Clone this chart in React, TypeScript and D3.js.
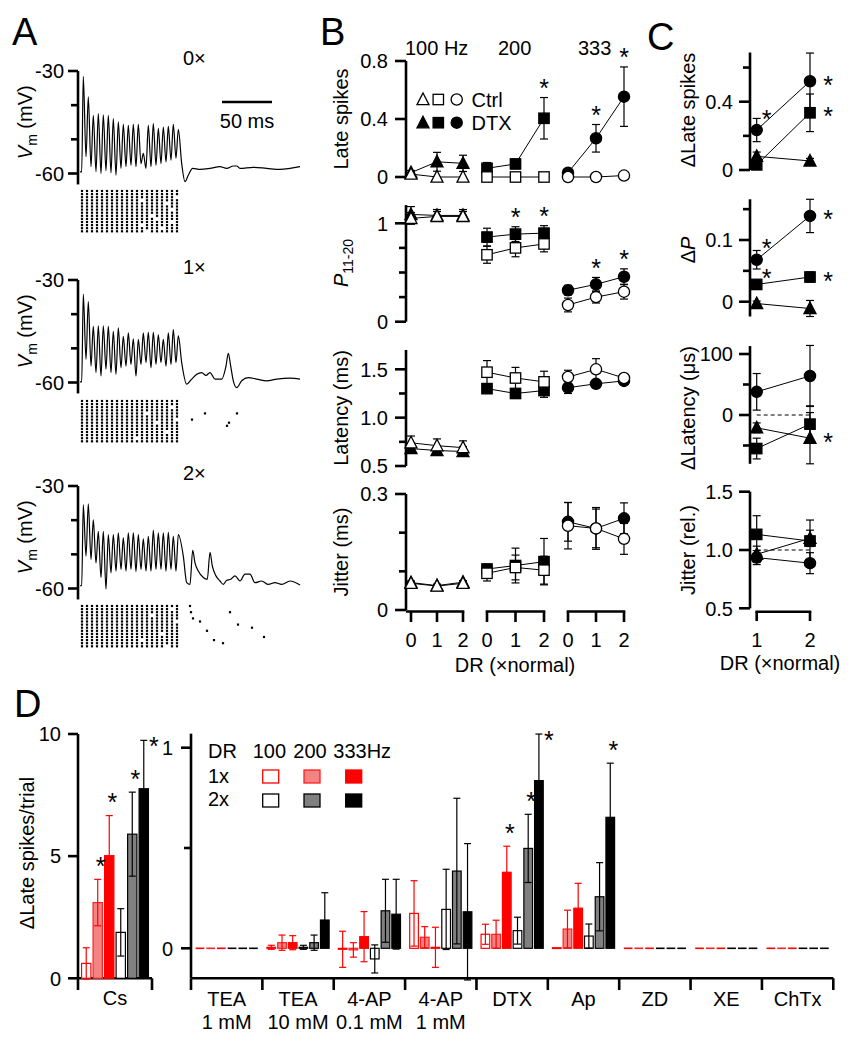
import React from 'react';
import * as d3 from 'd3';

const FONT = '"Liberation Sans", Arial, Helvetica, sans-serif';
const FS = 20;

/* ================= Panel A data ================= */
const stimTimes = [2, 7, 12, 17, 22, 27, 32, 37, 42, 47, 52, 57, 62, 67, 72, 77, 82, 87, 92, 97];
const traceLabels = ['0×', '1×', '2×'];
const vmTicks = [-30, -40, -50, -60];
const vmMajor = [-30, -60];

const trace0Base = -59.5;
const trace0Peaks = [-31.6, -37.6, -43.0, -42.5, -42.8, -43.0, -43.9, -44.9, -45.6, -45.9, -45.6, -45.6, -54.1, -45.9, -45.4, -46.8, -46.4, -46.2, -45.6, -47.1];
const trace0Troughs = [-55.1, -58.0, -59.5, -60.0, -59.2, -59.8, -60.5, -58.5, -58.0, -57.6, -58.0, -57.1, -58.5, -58.0, -57.6, -57.1, -56.6, -56.1, -55.5];
const trace0Tail = [[101.7, -57.1], [105, -62.4], [108.3, -60.5], [112.7, -58.5], [120, -58.8], [130, -58.5], [140, -58.0], [146.7, -58.5], [153.3, -57.8], [156.7, -57.8], [160, -58.5], [173.3, -58.2], [186.7, -58.5], [200, -58.8], [210, -58.5], [220, -58.0]];

const trace1Base = -59.8;
const trace1Peaks = [-34.1, -36.3, -43.6, -43.4, -43.4, -43.6, -45.0, -44.0, -46.5, -45.5, -47.2, -47.4, -45.5, -45.3, -45.3, -46.0, -47.4, -45.5, -44.5, -46.3];
const trace1Troughs = [-53.2, -55.2, -57.1, -58.1, -56.1, -57.1, -57.6, -55.7, -55.2, -54.7, -58.1, -54.7, -54.2, -55.7, -54.7, -54.2, -55.2, -54.7, -54.2];
const trace1Tail = [[101.7, -54.2], [106.7, -60.5], [111.7, -59.0], [116.7, -57.6], [121.7, -57.1], [126, -57.9], [130, -57.1], [135, -59.0], [141.7, -59.0], [146, -55.2], [148.3, -51.5], [150.7, -55.2], [153.3, -59.5], [156.7, -61.5], [161.7, -59.5], [168.3, -58.6], [176.7, -59.0], [186.7, -59.5], [196.7, -59.0], [210, -58.7], [220, -59.0]];

const trace2Base = -59.2;
const trace2Peaks = [-35.5, -35.2, -39.9, -43.3, -43.3, -44.2, -44.2, -43.7, -45.2, -43.7, -43.7, -44.2, -45.5, -44.7, -43.0, -43.7, -43.7, -43.6, -44.7, -44.2];
const trace2Troughs = [-50.5, -51.5, -52.5, -56.8, -60.2, -55.4, -54.9, -54.4, -54.9, -54.4, -55.0, -54.4, -54.9, -54.9, -54.4, -54.4, -54.9, -54.4, -54.9];
const trace2Tail = [[103.3, -50.5], [106.7, -58.3], [110, -58.8], [112.7, -48.8], [115, -52.5], [118.3, -54.9], [123.3, -56.8], [127.3, -57.3], [130, -49.4], [132.3, -53.4], [136, -56.3], [140, -57.8], [143.3, -58.8], [146.7, -57.6], [150.7, -57.3], [155, -56.3], [160, -57.8], [165, -55.8], [170, -55.8], [175, -58.3], [181.7, -57.8], [188.3, -58.8], [195, -58.3], [201.7, -58.8], [210, -57.8], [220, -59.0]];

const rasterRows = 14;
const raster0Missing = [[2, 19], [3, 12], [4, 17], [6, 18], [8, 14], [9, 15], [10, 18], [11, 12], [12, 16], [13, 13]];
const raster1Missing = [[2, 18], [4, 13], [6, 19], [7, 15], [10, 17], [12, 11]];
const raster2Missing = [[1, 18], [3, 14], [5, 19], [9, 16], [11, 12], [13, 17]];
const raster0Late: number[][] = [];
const raster1Late = [[112, 6], [125, 4], [147, 8], [149, 7], [157, 4]];
const raster2Late = [[110, 0], [111, 2], [113, 4], [120, 5], [127, 8], [134, 11], [143, 12], [150, 2], [158, 6], [172, 7], [184, 10]];

/* ================= Panel B data ================= */
const bGroupLabels = ['100 Hz', '200', '333'];
const drLevels = [0, 1, 2];
const bShapes = ['tri', 'sq', 'circ'];

const lateCtrl = [[0.02, 0, 0], [0, 0, 0], [0, 0, 0.01]];
const lateCtrlErr = [[0.01, 0, 0], [0, 0, 0], [0, 0, 0]];
const lateDtx = [[0.03, 0.105, 0.094], [0.06, 0.09, 0.405], [0.03, 0.267, 0.554]];
const lateDtxErr = [[0.015, 0.065, 0.056], [0.04, 0.027, 0.143], [0.01, 0.095, 0.205]];
const lateSig = [[0, 0, 0], [0, 0, 1], [0, 1, 1]];

const pCtrl = [[1.05, 1.07, 1.07], [0.68, 0.75, 0.79], [0.17, 0.25, 0.305]];
const pCtrlErr = [[0.06, 0.05, 0.05], [0.086, 0.09, 0.08], [0.07, 0.06, 0.075]];
const pDtx = [[1.09, 1.08, 1.08], [0.86, 0.89, 0.9], [0.32, 0.38, 0.457]];
const pDtxErr = [[0.08, 0.06, 0.06], [0.09, 0.075, 0.076], [0.05, 0.07, 0.08]];
const pSig = [[0, 0, 0], [0, 1, 1], [0, 1, 1]];

const latCtrl = [[0.74, 0.71, 0.69], [1.47, 1.41, 1.37], [1.42, 1.5, 1.41]];
const latCtrlErr = [[0.07, 0.07, 0.07], [0.12, 0.11, 0.11], [0.07, 0.11, 0.04]];
const latDtx = [[0.68, 0.66, 0.65], [1.3, 1.25, 1.28], [1.31, 1.35, 1.38]];
const latDtxErr = [[0.05, 0.04, 0.05], [0.04, 0.03, 0.07], [0.06, 0.03, 0.03]];
const latSig = [[0, 0, 0], [0, 0, 0], [0, 0, 0]];

const jitCtrl = [[0.069, 0.062, 0.069], [0.095, 0.11, 0.103], [0.218, 0.211, 0.184]];
const jitCtrlErr = [[0.004, 0.004, 0.004], [0.02, 0.032, 0.036], [0.06, 0.05, 0.04]];
const jitDtx = [[0.071, 0.063, 0.072], [0.106, 0.115, 0.125], [0.228, 0.211, 0.237]];
const jitDtxErr = [[0.004, 0.004, 0.004], [0.012, 0.045, 0.06], [0.05, 0.054, 0.04]];
const jitSig = [[0, 0, 0], [0, 0, 0], [0, 0, 0]];

/* ================= Panel C data ================= */
const cDR = [1, 2];
const cShapes = ['circ', 'sq', 'tri'];
const dLateMean = [[0.234, 0.52], [0.03, 0.335], [0.08, 0.053]];
const dLateErr = [[0.068, 0.165], [0.02, 0.11], [0.025, 0.015]];
const dLateSig = [[1, 1], [0, 1], [0, 0]];
const dPMean = [[0.068, 0.139], [0.028, 0.04], [-0.003, -0.011]];
const dPErr = [[0.015, 0.027], [0.005, 0.008], [0.004, 0.013]];
const dPSig = [[1, 1], [1, 1], [0, 0]];
const dLatMean = [[38, 64], [-55, -15], [-21, -38]];
const dLatErr = [[30, 50], [17, 30], [8, 42]];
const dLatSig = [[0, 0], [0, 0], [0, 1]];
const jRelMean = [[0.935, 0.887], [1.134, 1.077], [0.963, 1.1]];
const jRelErr = [[0.06, 0.09], [0.16, 0.18], [0.07, 0.07]];
const jRelSig = [[0, 0], [0, 0], [0, 0]];

/* ================= Panel D data ================= */
const dSeries = ['1x-100', '1x-200', '1x-333', '2x-100', '2x-200', '2x-333'];
const csValues = [0.61, 3.1, 5.02, 1.88, 5.9, 7.76];
const csErrors = [0.64, 0.95, 1.64, 0.97, 1.72, 1.98];
const csSig = [0, 1, 1, 0, 1, 1];
const dCatLine1 = ['TEA', 'TEA', '4-AP', '4-AP', 'DTX', 'Ap', 'ZD', 'XE', 'ChTx'];
const dCatLine2 = ['1 mM', '10 mM', '0.1 mM', '1 mM', '', '', '', '', ''];
const v1x100 = [0, 0.005, -0.005, 0.174, 0.07, 0.003, 0, 0, 0];
const v1x200 = [0, 0.028, -0.008, 0.055, 0.07, 0.096, 0, 0, 0];
const v1x333 = [0, 0.028, 0.058, 0.005, 0.379, 0.2, 0, 0, 0];
const v2x100 = [0, 0.005, -0.053, 0.194, 0.088, 0.061, 0, 0, 0];
const v2x200 = [0, 0.028, 0.187, 0.385, 0.498, 0.257, 0, 0, 0];
const v2x333 = [0, 0.141, 0.17, 0.182, 0.836, 0.653, 0, 0, 0];
const e1x100 = [0, 0.01, 0.09, 0.163, 0.05, 0, 0, 0, 0];
const e1x200 = [0, 0.038, 0.036, 0.053, 0.07, 0.094, 0, 0, 0];
const e1x333 = [0, 0.035, 0.125, 0.1, 0.13, 0.124, 0, 0, 0];
const e2x100 = [0, 0.01, 0.07, 0.2, 0.067, 0.06, 0, 0, 0];
const e2x200 = [0, 0.038, 0.157, 0.363, 0.17, 0.17, 0, 0, 0];
const e2x333 = [0, 0.136, 0.174, 0.34, 0.232, 0.27, 0, 0, 0];
const s1x333 = [0, 0, 0, 0, 1, 0, 0, 0, 0];
const s2x200 = [0, 0, 0, 0, 1, 0, 0, 0, 0];
const s2x333 = [0, 0, 0, 0, 1, 1, 0, 0, 0];
const sNone = [0, 0, 0, 0, 0, 0, 0, 0, 0];
const legendFreqs = ['100', '200', '333Hz'];
const legendRows = ['1x', '2x'];

const seriesStyle = [
  { fill: '#ffffff', stroke: '#ff0000' },
  { fill: '#f48484', stroke: '#ff2020' },
  { fill: '#ff0000', stroke: '#ff0000' },
  { fill: '#ffffff', stroke: '#000000' },
  { fill: '#808080', stroke: '#000000' },
  { fill: '#000000', stroke: '#000000' },
];

/* ================= helpers ================= */
function Marker({ shape, filled, x, y }: any) {
  const fill = filled ? '#000' : '#fff';
  if (shape === 'tri') {
    const h = 6;
    return <path d={`M${x},${y - h - 0.5}L${x + h},${y + h * 0.85}L${x - h},${y + h * 0.85}Z`} fill={fill} stroke="#000" strokeWidth={1.3} />;
  }
  if (shape === 'sq') {
    const h = 5.2;
    return <rect x={x - h} y={y - h} width={2 * h} height={2 * h} fill={fill} stroke="#000" strokeWidth={1.3} />;
  }
  return <circle cx={x} cy={y} r={5.6} fill={fill} stroke="#000" strokeWidth={1.3} />;
}

function ErrBar({ x, y1, y2, cap = 4, color = '#000', sw = 1.2 }: any) {
  return (
    <g stroke={color} strokeWidth={sw}>
      <line x1={x} x2={x} y1={y1} y2={y2} />
      <line x1={x - cap} x2={x + cap} y1={y1} y2={y1} />
      <line x1={x - cap} x2={x + cap} y1={y2} y2={y2} />
    </g>
  );
}

function Star({ x, y }: { x: number; y: number }) {
  return <text x={x} y={y + 14.5} textAnchor="middle" fontSize={25}>*</text>;
}

function VAxis({ x, y, top, bottom, ticks, minor = [], fmt, gap = 18, major = 11, minorLen = 7 }: any) {
  return (
    <g>
      <line x1={x} x2={x} y1={y(top)} y2={y(bottom)} stroke="#000" strokeWidth={2.6} />
      {ticks.map((t: number) => (
        <g key={'t' + t}>
          <line x1={x - major} x2={x} y1={y(t)} y2={y(t)} stroke="#000" strokeWidth={2.6} />
          <text x={x - gap} y={y(t)} dy="0.36em" textAnchor="end" fontSize={FS}>{fmt(t)}</text>
        </g>
      ))}
      {minor.map((t: number) => (
        <line key={'m' + t} x1={x - minorLen} x2={x} y1={y(t)} y2={y(t)} stroke="#000" strokeWidth={2.6} />
      ))}
    </g>
  );
}

function RotLabel({ x, y, children, size = FS }: any) {
  return (
    <text transform={`translate(${x},${y}) rotate(-90)`} textAnchor="middle" fontSize={size}>{children}</text>
  );
}

/* ================= Panel A ================= */
const A_TOPS = [71, 280, 486];
const A_RASTER_TOPS = [191, 401, 606];
const traceBases = [trace0Base, trace1Base, trace2Base];
const tracePeaks = [trace0Peaks, trace1Peaks, trace2Peaks];
const traceTroughs = [trace0Troughs, trace1Troughs, trace2Troughs];
const traceTails = [trace0Tail, trace1Tail, trace2Tail];
const rasterMissing = [raster0Missing, raster1Missing, raster2Missing];
const rasterLate = [raster0Late, raster1Late, raster2Late];

function PanelA() {
  const x = d3.scaleLinear().domain([0, 220]).range([80, 300]);
  return (
    <g>
      <text x={12} y={45} fontSize={38}>A</text>
      <line x1={x(142)} x2={x(192)} y1={102} y2={102} stroke="#000" strokeWidth={2.5} />
      <text x={x(167)} y={128} textAnchor="middle" fontSize={FS}>50 ms</text>
      {traceLabels.map((lab, k) => {
        const top = A_TOPS[k];
        const y = d3.scaleLinear().domain([-60, -30]).range([top + 102.5, top]);
        const pts: [number, number][] = [[0, traceBases[k]], [stimTimes[0] - 0.3, traceBases[k]]];
        stimTimes.forEach((s, i) => {
          pts.push([s + 1.3, tracePeaks[k][i]]);
          if (i < traceTroughs[k].length) pts.push([s + 4, traceTroughs[k][i]]);
        });
        traceTails[k].forEach((p) => pts.push([p[0], p[1]]));
        const ln = d3.line<[number, number]>().x((d) => x(d[0])).y((d) => y(d[1])).curve(d3.curveMonotoneX);
        const rTop = A_RASTER_TOPS[k];
        const missSet = new Set(rasterMissing[k].map((m) => m[0] + '-' + m[1]));
        const dots: any[] = [];
        for (let r = 0; r < rasterRows; r++) {
          stimTimes.forEach((s, c) => {
            if (!missSet.has(r + '-' + c)) {
              dots.push(<rect key={`d${r}-${c}`} x={x(s) - 1.1} y={rTop + r * 3.1 - 1.1} width={2.2} height={2.2} fill="#000" />);
            }
          });
        }
        rasterLate[k].forEach((p, i) => {
          dots.push(<rect key={`l${i}`} x={x(p[0]) - 1.1} y={rTop + p[1] * 3.1 - 1.1} width={2.2} height={2.2} fill="#000" />);
        });
        const mid = (y(-30) + y(-60)) / 2;
        return (
          <g key={lab}>
            <text x={183} y={top - 6} fontSize={FS}>{lab}</text>
            <line x1={78} x2={78} y1={y(-30)} y2={y(-63.2)} stroke="#000" strokeWidth={2.6} />
            {vmTicks.map((t) => (
              <line key={t} x1={vmMajor.includes(t) ? 68 : 71} x2={78} y1={y(t)} y2={y(t)} stroke="#000" strokeWidth={2.6} />
            ))}
            {vmMajor.map((t) => (
              <text key={'l' + t} x={64} y={y(t)} dy="0.36em" textAnchor="end" fontSize={FS}>{String(t)}</text>
            ))}
            <RotLabel x={32} y={mid}>
              <tspan fontStyle="italic">V</tspan>
              <tspan fontSize={14} dy={5}>m</tspan>
              <tspan dy={-5}> (mV)</tspan>
            </RotLabel>
            <path d={ln(pts) || ''} fill="none" stroke="#000" strokeWidth={1.2} />
            {dots}
          </g>
        );
      })}
    </g>
  );
}

/* ================= Panel B ================= */
const B_AXIS_X = 406;
const B_GROUP_RANGES = [[411, 463], [487, 544], [568, 624]];

function BSeries({ y, ctrl, ctrlErr, dtx, dtxErr, sig }: any) {
  return (
    <g>
      {bGroupLabels.map((g, gi) => {
        const xs = d3.scaleLinear().domain([0, 2]).range(B_GROUP_RANGES[gi]);
        const ln = d3.line<number>().x((_, i) => xs(drLevels[i])).y((v) => y(v));
        return (
          <g key={g}>
            <path d={ln(dtx[gi]) || ''} fill="none" stroke="#000" strokeWidth={1} />
            <path d={ln(ctrl[gi]) || ''} fill="none" stroke="#000" strokeWidth={1} />
            {drLevels.map((d, i) => (
              <g key={'e' + d}>
                {dtxErr[gi][i] > 0 && <ErrBar x={xs(d)} y1={y(dtx[gi][i] + dtxErr[gi][i])} y2={y(dtx[gi][i] - dtxErr[gi][i])} />}
                {ctrlErr[gi][i] > 0 && <ErrBar x={xs(d)} y1={y(ctrl[gi][i] + ctrlErr[gi][i])} y2={y(ctrl[gi][i] - ctrlErr[gi][i])} />}
              </g>
            ))}
            {drLevels.map((d, i) => <Marker key={'f' + d} shape={bShapes[gi]} filled x={xs(d)} y={y(dtx[gi][i])} />)}
            {drLevels.map((d, i) => <Marker key={'o' + d} shape={bShapes[gi]} filled={false} x={xs(d)} y={y(ctrl[gi][i])} />)}
            {drLevels.map((d, i) => sig[gi][i] ? <Star key={'s' + d} x={xs(d)} y={y(dtx[gi][i] + dtxErr[gi][i]) - 15} /> : null)}
          </g>
        );
      })}
    </g>
  );
}

function PanelB() {
  const yLate = d3.scaleLinear().domain([0, 0.8]).range([177, 61]);
  const yP = d3.scaleLinear().domain([0, 1]).range([321.7, 223.3]);
  const yLat = d3.scaleLinear().domain([0.5, 1.5]).range([466, 369.3]);
  const yJit = d3.scaleLinear().domain([0, 0.3]).range([610, 494]);
  const f1 = (v: number) => (v === 0 ? '0' : v.toFixed(1));
  const bLegendX = [423, 438.3, 456.7];
  return (
    <g>
      <text x={320} y={45} fontSize={38}>B</text>
      <text x={405} y={55} fontSize={FS}>{bGroupLabels[0]}</text>
      <text x={498} y={55} fontSize={FS}>{bGroupLabels[1]}</text>
      <text x={578} y={55} fontSize={FS}>{bGroupLabels[2]}</text>

      {bShapes.map((s, i) => <Marker key={'lo' + s} shape={s} filled={false} x={bLegendX[i]} y={99.5} />)}
      {bShapes.map((s, i) => <Marker key={'lf' + s} shape={s} filled x={bLegendX[i]} y={122.7} />)}
      <text x={471.5} y={106.5} fontSize={FS}>Ctrl</text>
      <text x={471.5} y={130} fontSize={FS}>DTX</text>

      <VAxis x={B_AXIS_X} y={yLate} top={0.8} bottom={-0.01} ticks={[0, 0.4, 0.8]} fmt={f1} />
      <RotLabel x={348} y={119}>Late spikes</RotLabel>
      <BSeries y={yLate} ctrl={lateCtrl} ctrlErr={lateCtrlErr} dtx={lateDtx} dtxErr={lateDtxErr} sig={lateSig} />

      <VAxis x={B_AXIS_X} y={yP} top={1.185} bottom={0} ticks={[0, 1]} minor={[0.25, 0.5, 0.75]} fmt={(v: number) => String(v)} />
      <RotLabel x={348} y={263}>
        <tspan fontStyle="italic">P</tspan>
        <tspan fontSize={14} dy={5}>11-20</tspan>
      </RotLabel>
      <BSeries y={yP} ctrl={pCtrl} ctrlErr={pCtrlErr} dtx={pDtx} dtxErr={pDtxErr} sig={pSig} />

      <VAxis x={B_AXIS_X} y={yLat} top={1.7} bottom={0.5} ticks={[0.5, 1.0, 1.5]} minor={[0.75, 1.25]} fmt={(v: number) => v.toFixed(1)} />
      <RotLabel x={348} y={408}>Latency (ms)</RotLabel>
      <BSeries y={yLat} ctrl={latCtrl} ctrlErr={latCtrlErr} dtx={latDtx} dtxErr={latDtxErr} sig={latSig} />

      <VAxis x={B_AXIS_X} y={yJit} top={0.3} bottom={0} ticks={[0, 0.3]} minor={[0.1, 0.2]} fmt={f1} />
      <RotLabel x={348} y={552}>Jitter (ms)</RotLabel>
      <BSeries y={yJit} ctrl={jitCtrl} ctrlErr={jitCtrlErr} dtx={jitDtx} dtxErr={jitDtxErr} sig={jitSig} />

      {B_GROUP_RANGES.map((r, gi) => {
        const xs = d3.scaleLinear().domain([0, 2]).range(r);
        return (
          <g key={'br' + gi}>
            <line x1={gi === 0 ? B_AXIS_X : xs(0) - 1.3} x2={xs(2) + 1.3} y1={611.5} y2={611.5} stroke="#000" strokeWidth={2.6} />
            {drLevels.map((d) => (
              <g key={d}>
                <line x1={xs(d)} x2={xs(d)} y1={611.5} y2={622} stroke="#000" strokeWidth={2.6} />
                <text x={xs(d)} y={647} textAnchor="middle" fontSize={FS}>{String(d)}</text>
              </g>
            ))}
          </g>
        );
      })}
      <text x={515} y={672} textAnchor="middle" fontSize={FS}>DR (×normal)</text>
    </g>
  );
}

/* ================= Panel C ================= */
const C_AXIS_X = 750;
const cStarDy1 = [-17, -12, -15];

function CSeries({ y, mean, err, sig }: any) {
  const xs = d3.scaleLinear().domain([1, 2]).range([756.7, 810]);
  const ln = d3.line<number>().x((_, i) => xs(cDR[i])).y((v) => y(v));
  return (
    <g>
      {cShapes.map((s, k) => <path key={'l' + s} d={ln(mean[k]) || ''} fill="none" stroke="#000" strokeWidth={1} />)}
      {cShapes.map((s, k) => cDR.map((d, i) => (
        <ErrBar key={'e' + s + d} x={xs(d)} y1={y(mean[k][i] + err[k][i])} y2={y(mean[k][i] - err[k][i])} />
      )))}
      {cShapes.map((s, k) => cDR.map((d, i) => <Marker key={'m' + s + d} shape={s} filled x={xs(d)} y={y(mean[k][i])} />))}
      {cShapes.map((s, k) => cDR.map((d, i) => sig[k][i]
        ? <Star key={'s' + s + d} x={xs(d) + (d === 1 ? 10 : 18)} y={y(mean[k][i]) + (d === 1 ? cStarDy1[k] : -2)} />
        : null))}
    </g>
  );
}

function PanelC() {
  const y1 = d3.scaleLinear().domain([0, 0.4]).range([170, 101.7]);
  const y2 = d3.scaleLinear().domain([0, 0.1]).range([301.7, 240]);
  const y3 = d3.scaleLinear().domain([0, 100]).range([415, 354]);
  const y4 = d3.scaleLinear().domain([0.5, 1.5]).range([608.3, 491.7]);
  const xs = d3.scaleLinear().domain([1, 2]).range([756.7, 810]);
  return (
    <g>
      <text x={647} y={50} fontSize={38}>C</text>
      <VAxis x={C_AXIS_X} y={y1} top={0.688} bottom={0} ticks={[0, 0.4]} minor={[0.2, 0.6]} fmt={(v: number) => (v === 0 ? '0' : v.toFixed(1))} gap={17} />
      <RotLabel x={695} y={110}>ΔLate spikes</RotLabel>
      <CSeries y={y1} mean={dLateMean} err={dLateErr} sig={dLateSig} />

      <VAxis x={C_AXIS_X} y={y2} top={0.166} bottom={-0.024} ticks={[0, 0.1]} minor={[0.05, 0.15]} fmt={(v: number) => (v === 0 ? '0' : v.toFixed(1))} gap={17} />
      <RotLabel x={695} y={250}>Δ<tspan fontStyle="italic">P</tspan></RotLabel>
      <CSeries y={y2} mean={dPMean} err={dPErr} sig={dPSig} />

      <VAxis x={C_AXIS_X} y={y3} top={113} bottom={-80} ticks={[0, 100]} minor={[50, -50]} fmt={(v: number) => String(v)} gap={17} />
      <RotLabel x={695} y={408}>ΔLatency (μs)</RotLabel>
      <line x1={xs(1)} x2={xs(2)} y1={y3(0)} y2={y3(0)} stroke="#000" strokeWidth={1} strokeDasharray="4,3" />
      <CSeries y={y3} mean={dLatMean} err={dLatErr} sig={dLatSig} />

      <VAxis x={C_AXIS_X} y={y4} top={1.5} bottom={0.5} ticks={[0.5, 1.0, 1.5]} fmt={(v: number) => v.toFixed(1)} gap={17} />
      <RotLabel x={695} y={550}>Jitter (rel.)</RotLabel>
      <line x1={xs(1)} x2={xs(2)} y1={y4(1)} y2={y4(1)} stroke="#000" strokeWidth={1} strokeDasharray="4,3" />
      <CSeries y={y4} mean={jRelMean} err={jRelErr} sig={jRelSig} />

      <line x1={xs(1) - 1.3} x2={xs(2) + 1.3} y1={611.7} y2={611.7} stroke="#000" strokeWidth={2.6} />
      {cDR.map((d) => (
        <g key={d}>
          <line x1={xs(d)} x2={xs(d)} y1={611.7} y2={621} stroke="#000" strokeWidth={2.6} />
          <text x={xs(d)} y={647} textAnchor="middle" fontSize={FS}>{String(d)}</text>
        </g>
      ))}
      <text x={780} y={670} textAnchor="middle" fontSize={FS}>DR (×normal)</text>
    </g>
  );
}

/* ================= Panel D ================= */
const dValues = [v1x100, v1x200, v1x333, v2x100, v2x200, v2x333];
const dErrors = [e1x100, e1x200, e1x333, e2x100, e2x200, e2x333];
const dSigs = [sNone, sNone, s1x333, sNone, s2x200, s2x333];

function Bar({ x, w, y, v, e, st, color }: any) {
  const y0 = y(0);
  const yv = y(v);
  return (
    <g>
      {v === 0
        ? <line x1={x} x2={x + w} y1={y0} y2={y0} stroke={st.stroke} strokeWidth={1.6} />
        : <rect x={x} y={Math.min(y0, yv)} width={w} height={Math.max(0.8, Math.abs(y0 - yv))} fill={st.fill} stroke={st.stroke} strokeWidth={1.2} />}
      {e > 0 && <ErrBar x={x + w / 2} y1={y(v + e)} y2={y(v - e)} cap={3.5} color={color} sw={1.2} />}
    </g>
  );
}

function PanelD() {
  const yCs = d3.scaleLinear().domain([0, 10]).range([978.3, 734]);
  const yR = d3.scaleLinear().domain([0, 1]).range([948.3, 747.7]);
  const csBand = d3.scaleBand().domain(dSeries).range([78, 152]).paddingInner(0.19).paddingOuter(0.31);
  const catBand = d3.scaleBand().domain(dCatLine1.map((c, i) => c + i)).range([191, 833.3]);
  const inner = d3.scaleBand().domain(dSeries).range([0, catBand.bandwidth()]).paddingInner(0.19).paddingOuter(0.43);
  const starPos = (cx: number, topPx: number) => (topPx < 752 ? { x: cx + 10, y: topPx } : { x: cx + 3, y: topPx - 19 });
  const legX = [262.7, 304, 345.7];
  const legTextX = [252.7, 293.3, 333.3];
  return (
    <g>
      <text x={14} y={717} fontSize={38}>D</text>
      <RotLabel x={34} y={853}>ΔLate spikes/trial</RotLabel>

      <VAxis x={78} y={yCs} top={10} bottom={0} ticks={[0, 5, 10]} fmt={(v: number) => String(v)} gap={17} major={10} />
      <line x1={78} x2={152} y1={978.3} y2={978.3} stroke="#000" strokeWidth={2.6} />
      <line x1={78} x2={78} y1={978.3} y2={990} stroke="#000" strokeWidth={2.6} />
      <line x1={152} x2={152} y1={978.3} y2={990} stroke="#000" strokeWidth={2.6} />
      {dSeries.map((s, i) => (
        <Bar key={s} x={csBand(s)} w={csBand.bandwidth()} y={yCs} v={csValues[i]} e={csErrors[i]} st={seriesStyle[i]} color={i < 3 ? '#ff0000' : '#000'} />
      ))}
      {dSeries.map((s, i) => {
        if (!csSig[i]) return null;
        const p = starPos((csBand(s) as number) + csBand.bandwidth() / 2, yCs(csValues[i] + csErrors[i]));
        return <Star key={'s' + s} x={p.x} y={p.y} />;
      })}
      <text x={115} y={1005} textAnchor="middle" fontSize={FS}>Cs</text>

      <VAxis x={191} y={yR} top={1.07} bottom={-0.148} ticks={[0, 1]} minor={[0.5]} fmt={(v: number) => String(v)} gap={18} major={10} />
      <line x1={191} x2={833.3} y1={978.3} y2={978.3} stroke="#000" strokeWidth={2.6} />
      {dCatLine1.map((c, ci) => {
        const key = c + ci;
        const cx0 = catBand(key) as number;
        return (
          <g key={key}>
            <line x1={cx0} x2={cx0} y1={978.3} y2={990} stroke="#000" strokeWidth={2.6} />
            {ci === dCatLine1.length - 1 && (
              <line x1={cx0 + catBand.bandwidth()} x2={cx0 + catBand.bandwidth()} y1={978.3} y2={990} stroke="#000" strokeWidth={2.6} />
            )}
            <text x={cx0 + catBand.bandwidth() / 2} y={1006} textAnchor="middle" fontSize={FS}>{c}</text>
            {dCatLine2[ci] && <text x={cx0 + catBand.bandwidth() / 2} y={1029} textAnchor="middle" fontSize={FS}>{dCatLine2[ci]}</text>}
            {dSeries.map((s, si) => (
              <Bar key={s} x={cx0 + (inner(s) as number)} w={inner.bandwidth()} y={yR} v={dValues[si][ci]} e={dErrors[si][ci]} st={seriesStyle[si]} color={si < 3 ? '#ff0000' : '#000'} />
            ))}
            {dSeries.map((s, si) => {
              if (!dSigs[si][ci]) return null;
              const p = starPos(cx0 + (inner(s) as number) + inner.bandwidth() / 2, yR(dValues[si][ci] + dErrors[si][ci]));
              return <Star key={'s' + s} x={p.x} y={p.y} />;
            })}
          </g>
        );
      })}

      <text x={208} y={758} fontSize={FS}>DR</text>
      {legendFreqs.map((f, i) => <text key={f} x={legTextX[i]} y={758} fontSize={FS}>{f}</text>)}
      {legendRows.map((r, ri) => (
        <g key={r}>
          <text x={208} y={ri === 0 ? 783 : 806} fontSize={FS}>{r}</text>
          {legendFreqs.map((f, fi) => {
            const st = seriesStyle[ri * 3 + fi];
            return <rect key={f} x={legX[fi]} y={ri === 0 ? 770 : 794} width={16} height={13} fill={st.fill} stroke={st.stroke} strokeWidth={1.3} />;
          })}
        </g>
      ))}
    </g>
  );
}

export default function App() {
  return (
    <svg width={854} height={1050} style={{ position: 'absolute', left: 0, top: 0, display: 'block' }} fontFamily={FONT}>
      <rect width={854} height={1050} fill="#fff" />
      <PanelA />
      <PanelB />
      <PanelC />
      <PanelD />
    </svg>
  );
}
